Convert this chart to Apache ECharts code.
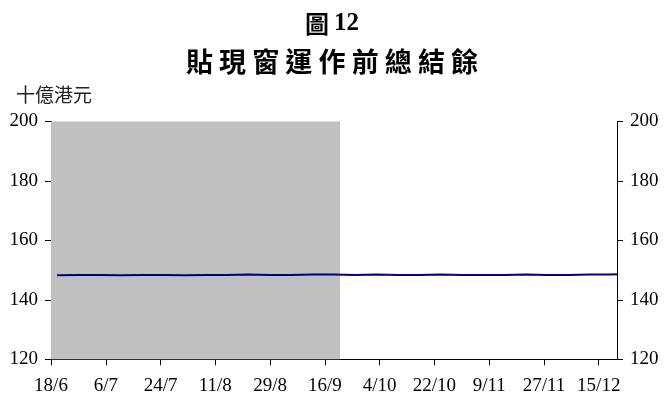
<!DOCTYPE html>
<html>
<head>
<meta charset="utf-8">
<script src="https://cdn.jsdelivr.net/npm/echarts@6/dist/echarts.min.js"></script>
<style>
  html, body { margin: 0; padding: 0; background: #fff; }
  #chart { width: 664px; height: 396px; }
</style>
</head>
<body>
<div id="chart"></div>
<script>
// Axis origin and tick labels (one label every 18 days)
const axisStart = '1998-06-18';
const axisEnd = '1998-12-21';
const tickStep = 18;
const tickLabels = ['18/6', '6/7', '24/7', '11/8', '29/8', '16/9', '4/10', '22/10', '9/11', '27/11', '15/12'];

// Shaded period
const shadeFrom = '1998-06-18';
const shadeTo = '1998-09-21';

// Aggregate balance before discount window operations (HK$ billion)
const obsDates = [
  '1998-06-20', '1998-06-27', '1998-07-04', '1998-07-11', '1998-07-18', '1998-07-25',
  '1998-08-01', '1998-08-08', '1998-08-15', '1998-08-22', '1998-08-29', '1998-09-05',
  '1998-09-12', '1998-09-19', '1998-09-26', '1998-10-03', '1998-10-10', '1998-10-17',
  '1998-10-24', '1998-10-31', '1998-11-07', '1998-11-14', '1998-11-21', '1998-11-28',
  '1998-12-05', '1998-12-12', '1998-12-19', '1998-12-21'
];
const balances = [
  148.3, 148.4, 148.4, 148.3, 148.4, 148.4,
  148.3, 148.4, 148.4, 148.5, 148.4, 148.4,
  148.5, 148.5, 148.4, 148.5, 148.4, 148.4,
  148.5, 148.4, 148.4, 148.4, 148.5, 148.4,
  148.4, 148.5, 148.5, 148.6
];

const yTicks = [120, 140, 160, 180, 200];

const DAY = 86400000;
function dayOffset(d) {
  return Math.round((Date.parse(d + 'T00:00:00Z') - Date.parse(axisStart + 'T00:00:00Z')) / DAY);
}
const xMax = dayOffset(axisEnd);
const tickValues = tickLabels.map((_, i) => i * tickStep);
const lineData = obsDates.map((d, i) => [dayOffset(d), balances[i]]);

const serif = 'Liberation Serif, Times New Roman, serif';
const cjk = 'Noto Sans CJK TC, sans-serif';

function yAxisCfg(pos) {
  return {
    type: 'value',
    position: pos,
    min: yTicks[0],
    max: yTicks[yTicks.length - 1],
    interval: 20,
    axisLine: { show: true, lineStyle: { color: '#000', width: 1 } },
    axisTick: { show: true, inside: false, length: 6, lineStyle: { color: '#000' } },
    axisLabel: { margin: 13, color: '#000', fontFamily: serif, fontSize: 19 },
    splitLine: { show: false }
  };
}

const chart = echarts.init(document.getElementById('chart'), null, { renderer: 'canvas' });
chart.setOption({
  backgroundColor: '#fff',
  animation: false,
  title: [
    {
      text: '{a|圖} {b|12}',
      left: 'center',
      top: 6,
      textStyle: {
        rich: {
          a: { fontFamily: cjk, fontWeight: 'bold', fontSize: 24, color: '#000' },
          b: { fontFamily: serif, fontWeight: 'bold', fontSize: 25, color: '#000' }
        }
      }
    },
    {
      text: '貼 現 窗 運 作 前 總 結 餘',
      left: 'center',
      top: 43,
      textStyle: { fontFamily: cjk, fontWeight: 'bold', fontSize: 27, color: '#000' }
    },
    {
      text: '十億港元',
      left: 11,
      top: 80,
      textStyle: { fontFamily: cjk, fontWeight: 'normal', fontSize: 19, color: '#222' }
    }
  ],
  grid: { left: 51, right: 47, top: 121.5, bottom: 36.7, containLabel: false },
  xAxis: {
    type: 'value',
    min: 0,
    max: xMax,
    axisLine: { show: true, onZero: false, lineStyle: { color: '#000', width: 1 } },
    axisTick: { show: true, length: 6, customValues: tickValues, lineStyle: { color: '#000' } },
    axisLabel: {
      customValues: tickValues,
      margin: 17,
      color: '#000',
      fontFamily: serif,
      fontSize: 19,
      formatter: v => tickLabels[Math.round(v / tickStep)] || ''
    },
    splitLine: { show: false }
  },
  yAxis: [yAxisCfg('left'), yAxisCfg('right')],
  series: [
    {
      type: 'line',
      yAxisIndex: 0,
      data: lineData,
      showSymbol: false,
      lineStyle: { color: '#000080', width: 2 },
      itemStyle: { color: '#000080' },
      markArea: {
        silent: true,
        itemStyle: { color: '#c0c0c0' },
        data: [[{ xAxis: dayOffset(shadeFrom) }, { xAxis: dayOffset(shadeTo) }]]
      },
      z: 3
    }
  ]
});
</script>
</body>
</html>
